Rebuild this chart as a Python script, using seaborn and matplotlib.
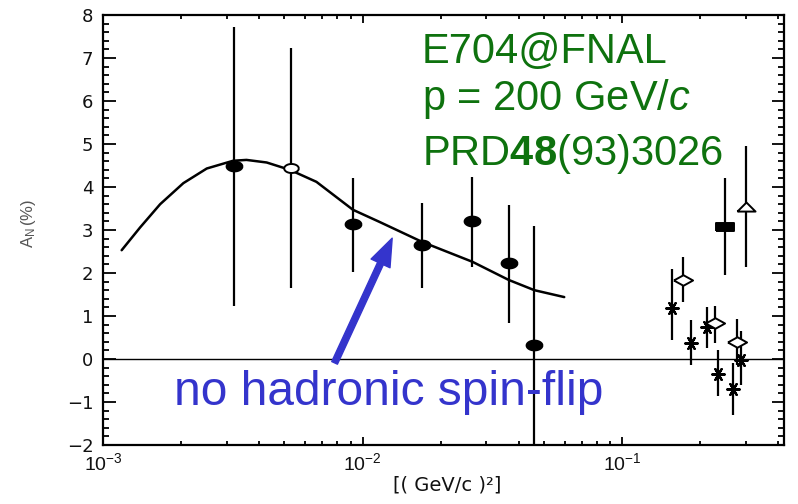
import numpy as np
import pandas as pd
import matplotlib
matplotlib.use("Agg")
import matplotlib.pyplot as plt
import seaborn as sns
from matplotlib.ticker import MultipleLocator, LogLocator, NullFormatter, FixedLocator, FixedFormatter

# ---------------- data ----------------
# E704 points, |t| in (GeV/c)^2, A_N in %
e704_t = [0.00319, 0.00917, 0.0170, 0.0265, 0.0365, 0.0459]
e704_a = [4.49, 3.14, 2.65, 3.21, 2.23, 0.33]
e704_lo = [3.26, 1.12, 1.00, 1.07, 1.39, 2.80]
e704_hi = [3.23, 1.07, 0.98, 1.02, 1.35, 2.76]

open_t = [0.00528]
open_a = [4.44]
open_lo = [2.79]
open_hi = [2.79]

star_t = [0.156, 0.184, 0.212, 0.234, 0.267, 0.287]
star_a = [1.19, 0.37, 0.74, -0.35, -0.70, -0.02]
star_lo = [0.75, 0.51, 0.48, 0.51, 0.60, 0.58]
star_hi = [0.90, 0.54, 0.47, 0.56, 0.61, 0.67]

diam_t = [0.172, 0.228, 0.277]
diam_a = [1.84, 0.84, 0.40]
diam_lo = [0.51, 0.47, 0.53]
diam_hi = [0.53, 0.39, 0.53]

sq_t = [0.249]
sq_a = [3.07]
sq_lo = [1.12]
sq_hi = [1.14]

tri_t = [0.300]
tri_a = [3.53]
tri_lo = [1.39]
tri_hi = [1.42]

# CNI curve (no hadronic spin-flip), read point by point
curve_t = [0.00118, 0.00139, 0.00166, 0.00204, 0.00251, 0.00317, 0.00357,
           0.00427, 0.00524, 0.00664, 0.00918, 0.0116, 0.0170, 0.0265,
           0.0365, 0.0459, 0.0598]
curve_a = [2.53, 3.06, 3.60, 4.09, 4.43, 4.61, 4.63, 4.57, 4.40, 4.12,
           3.47, 3.19, 2.72, 2.26, 1.84, 1.60, 1.44]

x_ticks = [1e-3, 1e-2, 1e-1]
x_ticklabels = ["$10^{-3}$", "$10^{-2}$", "$10^{-1}$"]
y_ticks = [-2, -1, 0, 1, 2, 3, 4, 5, 6, 7, 8]

GREEN = "#0e720e"
BLUE = "#3434cc"

# ---------------- style ----------------
sns.set_theme(style="ticks")
plt.rcParams["font.family"] = ["DejaVu Sans"]
plt.rcParams["mathtext.fontset"] = "custom"
plt.rcParams["mathtext.rm"] = "Liberation Sans"
plt.rcParams["mathtext.it"] = "Liberation Sans:italic"
plt.rcParams["mathtext.bf"] = "Liberation Sans:bold"

fig = plt.figure(figsize=(7.98, 5.04), dpi=100)
W, H = 798, 504
ax = fig.add_axes([103 / W, 59 / H, 681 / W, 430 / H])
ax.set_xscale("log")

# zero line
ax.axhline(0, color="black", lw=1.0, zorder=1)

# curve
curve_df = pd.DataFrame({"t": curve_t, "a": curve_a})
sns.lineplot(data=curve_df, x="t", y="a", ax=ax, color="black", lw=1.8,
             sort=False, zorder=3, solid_joinstyle="round",
             solid_capstyle="round")

# marker shapes
th = np.linspace(0, 2 * np.pi, 41)
ellipse = np.column_stack([np.cos(th), 0.62 * np.sin(th)])
diamond = [(-1, 0), (0, 0.55), (1, 0), (0, -0.55), (-1, 0)]
rect = [(-1, -0.45), (1, -0.45), (1, 0.45), (-1, 0.45), (-1, -0.45)]
triangle = [(-1, -0.45), (1, -0.45), (0, 0.55), (-1, -0.45)]


def series(t, a, lo, hi, marker, s, face, lw=1.4):
    ax.errorbar(t, a, yerr=[lo, hi], fmt="none", ecolor="black",
                elinewidth=1.6, capsize=0, zorder=2)
    df = pd.DataFrame({"t": t, "a": a})
    sns.scatterplot(data=df, x="t", y="a", ax=ax, marker=marker, s=s,
                    color=face, edgecolor="black", linewidth=lw, zorder=4)


series(e704_t, e704_a, e704_lo, e704_hi, ellipse, 130, "black")
series(open_t, open_a, open_lo, open_hi, ellipse, 110, "white")
series(star_t, star_a, star_lo, star_hi, (6, 2, 90), 80, "black", lw=1.6)
series(diam_t, diam_a, diam_lo, diam_hi, diamond, 190, "white")
series(sq_t, sq_a, sq_lo, sq_hi, rect, 150, "black")
series(tri_t, tri_a, tri_lo, tri_hi, triangle, 170, "white")

# axes
ax.set_xlim(1e-3, 0.42)
ax.set_ylim(-2, 8)
ax.xaxis.set_major_locator(FixedLocator(x_ticks))
ax.xaxis.set_major_formatter(FixedFormatter(x_ticklabels))
ax.xaxis.set_minor_locator(LogLocator(base=10, subs=np.arange(2, 10)))
ax.xaxis.set_minor_formatter(NullFormatter())
ax.yaxis.set_major_locator(FixedLocator(y_ticks))
ax.yaxis.set_minor_locator(MultipleLocator(0.2))
ax.tick_params(which="both", direction="in", top=True, right=True,
               color="black", width=1.3, labelcolor="#111111")
ax.tick_params(which="major", length=9, labelsize=13, pad=7)
ax.tick_params(which="minor", length=4.5)
ax.tick_params(axis="x", which="major", length=6, pad=5, labelsize=14)
ax.tick_params(axis="x", which="minor", length=3)
for sp in ax.spines.values():
    sp.set_linewidth(1.6)
    sp.set_color("black")
ax.set_xlabel("")
ax.set_ylabel("")

fig.text(447 / W, 1 - 485 / H, "[( GeV/c )²]", ha="center", va="center",
         fontsize=14, color="#111111")
fig.text(29 / W, 1 - 223 / H, r"$\mathrm{A_N\,(\%)}$", ha="center",
         va="center", rotation=90, fontsize=12, color="#555555")

# green annotation
fig.text(422 / W, 1 - 63 / H, "E704@FNAL", fontsize=30, color=GREEN,
         family="Liberation Sans", va="baseline", ha="left")
fig.text(422 / W, 1 - 110 / H, r"p = 200 GeV/$\mathit{c}$", fontsize=30,
         color=GREEN, family="Liberation Sans", va="baseline", ha="left")
fig.text(422 / W, 1 - 165 / H, r"PRD$\mathbf{48}$(93)3026", fontsize=30,
         color=GREEN, family="Liberation Sans", va="baseline", ha="left")

# blue annotation
fig.text(174 / W, 1 - 405 / H, "no hadronic spin-flip", fontsize=34.5,
         color=BLUE, family="Liberation Sans", va="baseline", ha="left")
ax.annotate("", xy=(0.0130, 2.81), xytext=(0.0078, -0.09),
            xycoords="data", textcoords="data", annotation_clip=False,
            arrowprops=dict(facecolor=BLUE, edgecolor=BLUE, width=4.5,
                            headwidth=15, headlength=20, shrink=0))

fig.savefig("out.png", dpi=100)
